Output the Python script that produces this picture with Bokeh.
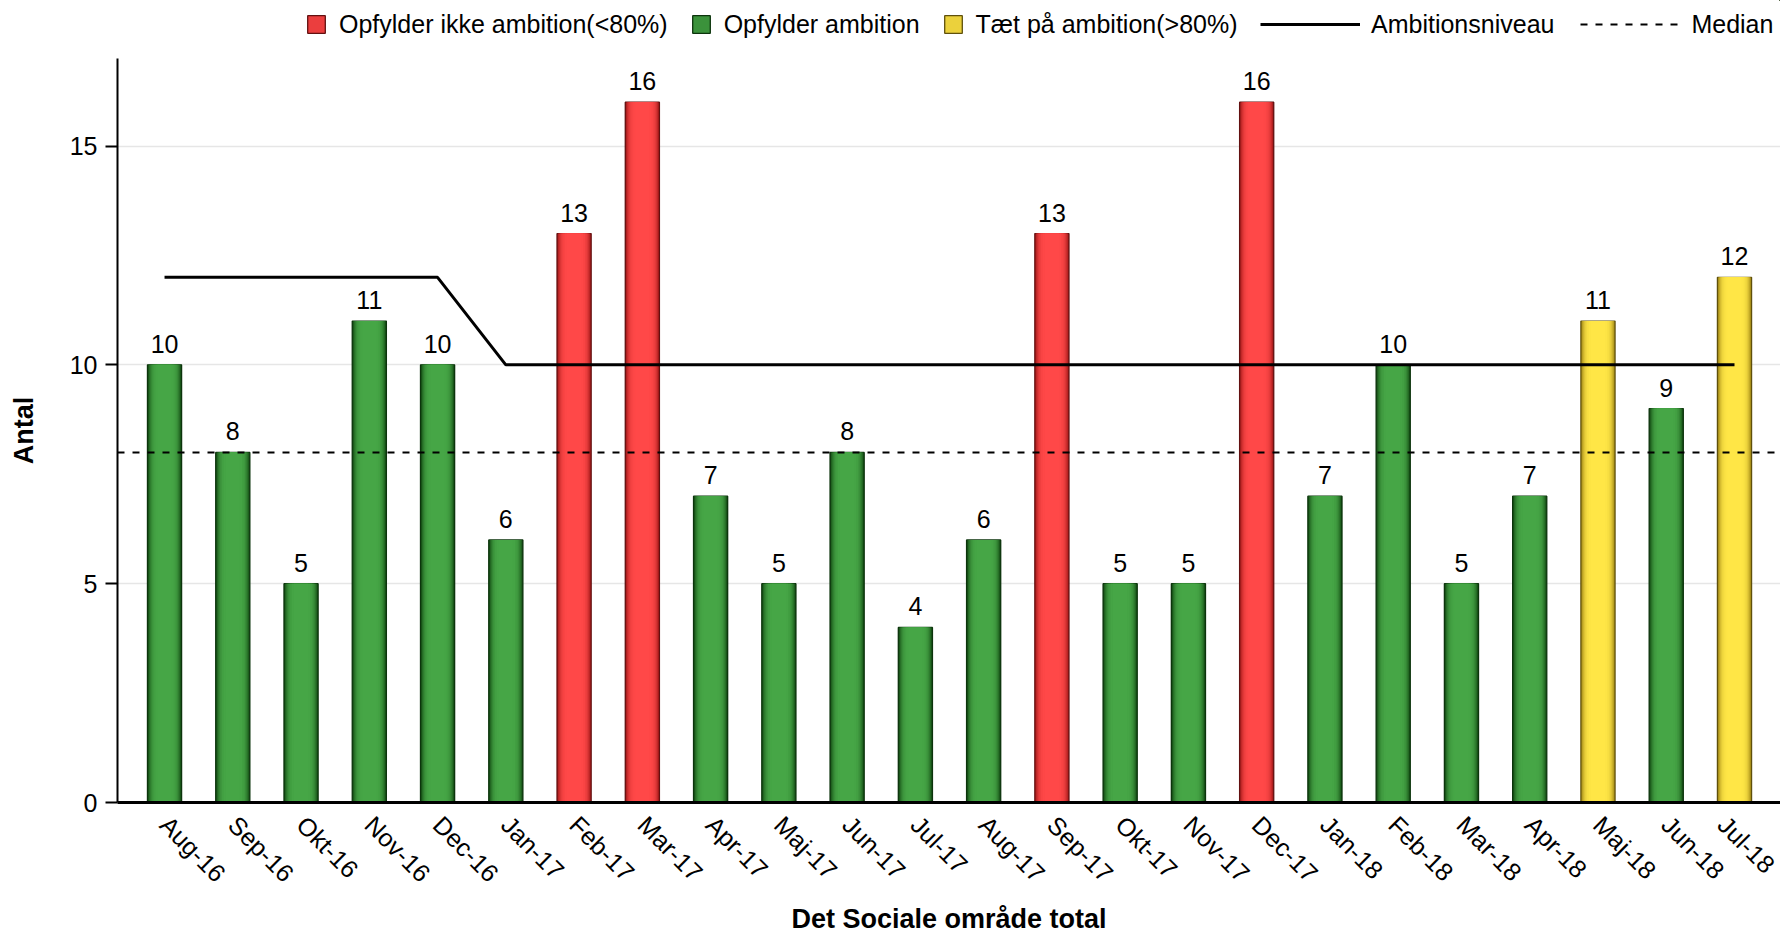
import numpy as np
from bokeh.plotting import figure
from bokeh.layouts import column
from bokeh.models import (ColumnDataSource, Range1d, FixedTicker, Span, Legend,
                          LegendItem)
from bokeh.core.properties import value
from bokeh.embed import file_html
from bokeh.resources import INLINE

# ---------------- data ----------------
months = ["Aug-16", "Sep-16", "Okt-16", "Nov-16", "Dec-16", "Jan-17", "Feb-17",
          "Mar-17", "Apr-17", "Maj-17", "Jun-17", "Jul-17", "Aug-17", "Sep-17",
          "Okt-17", "Nov-17", "Dec-17", "Jan-18", "Feb-18", "Mar-18", "Apr-18",
          "Maj-18", "Jun-18", "Jul-18"]
counts = [10, 8, 5, 11, 10, 6, 13, 16, 7, 5, 8, 4, 6, 13, 5, 5, 16, 7, 10, 5,
          7, 11, 9, 12]
status = ["g", "g", "g", "g", "g", "g", "r", "r", "g", "g", "g", "g", "g", "r",
          "g", "g", "r", "g", "g", "g", "g", "y", "g", "y"]
ambition = [12, 12, 12, 12, 12, 10, 10, 10, 10, 10, 10, 10, 10, 10, 10, 10, 10,
            10, 10, 10, 10, 10, 10, 10]
median_value = 8
y_ticks = [0, 5, 10, 15]

status_labels = {"r": "Opfylder ikke ambition(<80%)",
                 "g": "Opfylder ambition",
                 "y": "Tæt på ambition(>80%)"}
legend_order = ["r", "g", "y"]
ambition_label = "Ambitionsniveau"
median_label = "Median"
x_title = "Det Sociale område total"
y_title = "Antal"

# ---------------- styles ----------------
FONT = "Liberation Sans"
palette = {  # edge, centre, border
    "g": ("#0f430f", "#46a646", "#0c340c"),
    "r": ("#9a1616", "#ff4848", "#621010"),
    "y": ("#9a7f12", "#ffe646", "#5f500c"),
}


def hex2rgb(h):
    h = h.lstrip("#")
    return [int(h[i:i + 2], 16) for i in (0, 2, 4)]


def mix(c1, c2, t):
    a, b = hex2rgb(c1), hex2rgb(c2)
    return "#%02x%02x%02x" % tuple(int(round(a[i] + (b[i] - a[i]) * t)) for i in range(3))


layers = [(0.50, 0.0), (0.475, 0.25), (0.45, 0.45), (0.42, 0.62), (0.39, 0.75),
          (0.36, 0.85), (0.32, 0.93), (0.27, 0.98), (0.21, 1.0)]

x_idx = list(range(len(months)))
data = dict(x=x_idx, top=counts, label=[str(v) for v in counts],
            border=[palette[s][2] for s in status])
for k, (w, t) in enumerate(layers):
    data[f"c{k}"] = [mix(palette[s][0], palette[s][1], t) for s in status]
src = ColumnDataSource(data)

LEG_H = 50
p = figure(width=1780, height=937 - LEG_H, output_backend="svg", toolbar_location=None,
           x_range=Range1d(-0.689, 23.674), y_range=Range1d(0, 17),
           min_border_left=117, min_border_right=0, min_border_top=58 - LEG_H,
           min_border_bottom=135, background_fill_color="white",
           border_fill_color="white")
p.outline_line_color = None
p.xgrid.grid_line_color = None
p.ygrid.grid_line_color = "#e6e6e6"
p.ygrid.grid_line_width = 1.5
p.ygrid.ticker = FixedTicker(ticks=y_ticks)

# bars (layered to imitate the horizontal gradient)
for k, (w, t) in enumerate(layers):
    if k == 0:
        p.vbar(x="x", top="top", bottom=0, width=w, source=src, fill_color=f"c{k}",
               line_color="border", line_width=1.3)
    else:
        p.vbar(x="x", top="top", bottom=0, width=w, source=src, fill_color=f"c{k}",
               line_color=None)

# value labels
p.text(x="x", y="top", text="label", source=src, text_align="center",
       text_baseline="bottom", y_offset=-12, text_font=value(FONT),
       text_font_size="25px", text_color="black")

# ambition line
p.line(x=x_idx, y=ambition, line_color="black", line_width=3)

# median line across the whole frame
p.add_layout(Span(location=median_value, dimension="width", line_color="black",
                  line_width=2, line_dash="7 8"))

# axes
xa = p.xaxis[0]
xa.ticker = FixedTicker(ticks=x_idx)
xa.major_label_overrides = {i: m for i, m in zip(x_idx, months)}
xa.major_label_orientation = -np.pi / 4
xa.major_tick_out = 0
xa.major_tick_in = 0
xa.minor_tick_out = 0
xa.minor_tick_in = 0
xa.axis_line_width = 3
xa.axis_line_color = "black"
xa.major_label_text_font = FONT
xa.major_label_text_font_size = "25px"
xa.major_label_text_color = "black"
xa.major_label_standoff = 18
xa.axis_label = x_title
xa.axis_label_text_font = FONT
xa.axis_label_text_font_size = "27px"
xa.axis_label_text_font_style = "bold"
xa.axis_label_text_color = "black"
xa.axis_label_standoff = 4

ya = p.yaxis[0]
ya.ticker = FixedTicker(ticks=y_ticks)
ya.major_tick_out = 12
ya.major_tick_in = 0
ya.major_tick_line_width = 2
ya.minor_tick_out = 0
ya.minor_tick_in = 0
ya.axis_line_width = 2
ya.axis_line_color = "black"
ya.major_label_text_font = FONT
ya.major_label_text_font_size = "25px"
ya.major_label_text_color = "black"
ya.major_label_standoff = 8
ya.axis_label = y_title
ya.axis_label_text_font = FONT
ya.axis_label_text_font_size = "27px"
ya.axis_label_text_font_style = "bold"
ya.axis_label_text_color = "black"
ya.axis_label_standoff = 28

# ---------------- legend strip (separate figure above the chart) ----------------
# its ranges are far away from the data, so its renderers only feed the legend keys
lf = figure(width=1780, height=LEG_H, output_backend="svg", toolbar_location=None,
            x_range=Range1d(-200, -199), y_range=Range1d(-200, -199), min_border=0,
            x_axis_location=None, y_axis_location=None,
            background_fill_color="white", border_fill_color="white")
lf.outline_line_color = None
lf.grid.visible = False

leg_r = {}
for s in legend_order:
    xs = [x for x, st in zip(x_idx, status) if st == s]
    ts = [c for c, st in zip(counts, status) if st == s]
    leg_r[s] = lf.vbar(x=xs, top=ts, width=0.5,
                       fill_color=mix(palette[s][0], palette[s][1], 0.8),
                       line_color=palette[s][2], line_width=1.3)
amb_leg = lf.line(x=x_idx, y=ambition, line_color="black", line_width=3)
med_leg = lf.line(x=[x_idx[0], x_idx[-1]], y=[median_value, median_value],
                  line_color="black", line_width=2, line_dash="7 8")

common = dict(orientation="horizontal", border_line_color=None,
              background_fill_alpha=0, padding=0, margin=0,
              label_text_font=FONT, label_text_font_size="25px",
              label_text_color="black", label_height=30)
legend1 = Legend(items=[LegendItem(label=status_labels[s], renderers=[leg_r[s]])
                        for s in legend_order],
                 location=(188, 11), glyph_width=22, glyph_height=22,
                 label_standoff=12, spacing=22, **common)
legend2 = Legend(items=[LegendItem(label=ambition_label, renderers=[amb_leg]),
                        LegendItem(label=median_label, renderers=[med_leg])],
                 location=(1143, 11), glyph_width=100, glyph_height=18,
                 label_standoff=11, spacing=26, **common)
lf.add_layout(legend1, "center")
lf.add_layout(legend2, "center")

layout = column(lf, p, spacing=0)
open("out.html", "w").write(file_html(layout, INLINE))
